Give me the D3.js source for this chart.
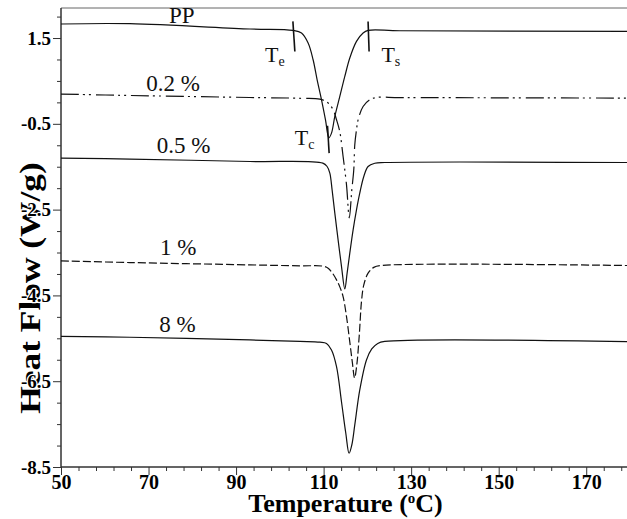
<!DOCTYPE html>
<html>
<head>
<meta charset="utf-8">
<script src="https://cdn.jsdelivr.net/npm/d3@7"></script>
<style>
  html, body { margin: 0; padding: 0; background: #fff; }
  svg { display: block; }
</style>
</head>
<body>
<svg id="chart" width="627" height="519"></svg>
<script>
// DSC cooling curves: heat flow (W/g) against temperature (°C)
const ppT   = [50, 65.75, 93.15, 102.97, 104.95, 106.46, 107.6, 108.52, 109.52, 110.43, 111.19, 111.8, 112.56, 113.7, 114.84, 115.98, 117.51, 119.02, 120.16, 127.4, 180];
const ppHF  = [1.827, 1.834, 1.71, 1.677, 1.617, 1.383, 0.994, 0.527, 0.061, -0.406, -0.826, -0.716, -0.329, 0.138, 0.604, 1.033, 1.421, 1.617, 1.677, 1.670, 1.654];

const p02T  = [50, 65.75, 93.15, 104.57, 109.13, 111.03, 112.17, 112.95, 113.7, 114.45, 115.23, 115.87, 116.44, 116.89, 117.12, 117.51, 117.88, 119.02, 120.55, 122.08, 127.4, 180];
const p02HF = [0.194, 0.161, 0.114, 0.096, 0.077, -0.016, -0.172, -0.406, -0.686, -1.262, -1.922, -2.692, -2.039, -1.572, -0.989, -0.639, -0.406, -0.096, 0.061, 0.114, 0.112, 0.100];

const p05T  = [50, 65.75, 93.15, 109.82, 110.8, 111.42, 111.94, 112.56, 113.31, 114.09, 114.84, 115.37, 115.98, 116.74, 117.51, 118.26, 119.18, 120.16, 121.69, 123.97, 180];
const p05HF = [-1.299, -1.322, -1.378, -1.416, -1.495, -1.649, -2.039, -2.582, -3.205, -3.828, -4.348, -3.982, -3.515, -2.972, -2.505, -2.116, -1.728, -1.495, -1.420, -1.402, -1.402];

const p1T   = [50, 65.75, 93.15, 104.57, 109.82, 111.03, 112.03, 112.95, 113.7, 114.45, 115.23, 115.98, 116.55, 117.08, 117.58, 118.15, 118.65, 119.18, 120.16, 121.46, 123.52, 180];
const p1HF  = [-3.695, -3.734, -3.788, -3.811, -3.818, -3.865, -3.982, -4.138, -4.301, -4.528, -4.994, -5.584, -6.051, -6.424, -6.121, -5.421, -4.644, -4.255, -3.982, -3.846, -3.800, -3.804];

const p8T   = [50, 65.75, 93.15, 104.57, 109.13, 110.66, 111.8, 112.95, 114.09, 115.07, 115.82, 116.44, 117.12, 118.26, 119.79, 121.0, 122.37, 123.97, 180];
const p8HF  = [-5.456, -5.475, -5.538, -5.573, -5.591, -5.619, -5.771, -6.160, -6.984, -7.714, -8.180, -7.987, -7.520, -6.704, -6.004, -5.747, -5.619, -5.573, -5.577];

const seriesNames  = ["PP", "0.2 %", "0.5 %", "1 %", "8 %"];
const seriesDash   = [null, "18,4,2,4,2,5", null, "8,3", null];
// label anchor (temperature, heat flow) for each curve name
const labelT  = [77.6, 75.6, 78.0, 76.8, 76.6];
const labelHF = [1.85, 0.254, -1.169, -3.555, -5.344];

// onset / end / peak markers on the PP curve
const markerNames = ["e", "s", "c"];
const markerT1  = [102.98, 120.16, 110.89];
const markerHF1 = [1.887, 1.887, -0.546];
const markerT2  = [103.43, 120.39, 111.26];
const markerHF2 = [1.187, 1.187, -1.183];
const markerLabelT  = [96.6, 123.2, 103.4];
const markerLabelHF = [0.93, 0.93, -0.99];

const xMajor = [50, 70, 90, 110, 130, 150, 170];
const yMajor = [1.5, -0.5, -2.5, -4.5, -6.5, -8.5];

const svg = d3.select("#chart");
const x = d3.scaleLinear().domain([50, 180]).range([61, 630]);
const y = d3.scaleLinear().domain([-8.5, 2.2]).range([467, 8]);

const xMinor = d3.range(50, 180, 4).filter(v => !xMajor.includes(v));
const yMinor = d3.range(-8.5, 2.01, 0.5).map(v => +v.toFixed(1)).filter(v => !yMajor.includes(v));

const serif = "'Liberation Serif', 'Times New Roman', serif";
const axisColor = "#333";

// y-axis title sits underneath the tick labels, drawn tall and narrow
svg.append("text")
  .attr("transform", `translate(40,288) rotate(-90) scale(1.18,1)`)
  .attr("text-anchor", "middle")
  .attr("font-family", serif).attr("font-weight", "bold").attr("font-size", 30)
  .attr("fill", "#000")
  .text("Heat Flow (W/g)");

// top frame line
svg.append("line")
  .attr("x1", x(50)).attr("x2", 627)
  .attr("y1", y(2.2)).attr("y2", y(2.2))
  .attr("stroke", "#666").attr("stroke-width", 1);

// minor ticks
const gxMin = svg.append("g").attr("transform", `translate(0,${y(-8.5)})`)
  .call(d3.axisBottom(x).tickValues(xMinor).tickSize(4).tickFormat(""));
const gyMin = svg.append("g").attr("transform", `translate(${x(50)},0)`)
  .call(d3.axisLeft(y).tickValues(yMinor).tickSize(4).tickFormat(""));

// major ticks with labels
const gx = svg.append("g").attr("transform", `translate(0,${y(-8.5)})`)
  .call(d3.axisBottom(x).tickValues(xMajor).tickSize(8).tickPadding(0).tickFormat(d3.format("d")));
const gy = svg.append("g").attr("transform", `translate(${x(50)},0)`)
  .call(d3.axisLeft(y).tickValues(yMajor).tickSize(8).tickPadding(2).tickFormat(d => d3.format(".1f")(d).replace("−", "-")));

[gxMin, gyMin, gx, gy].forEach(g => {
  g.selectAll("path.domain").attr("stroke", axisColor);
  g.selectAll(".tick line").attr("stroke", axisColor);
});
gx.select("path.domain").attr("d", `M${x(50)},0H627`);
gxMin.select("path.domain").attr("d", `M${x(50)},0H627`);
gy.select("path.domain").attr("d", `M0,${y(-8.5)}V${y(2.2)}`);
gyMin.select("path.domain").attr("d", `M0,${y(-8.5)}V${y(2.2)}`);

gx.selectAll(".tick text")
  .attr("font-family", serif).attr("font-weight", "bold").attr("font-size", 20)
  .attr("fill", "#000");
// y tick labels keep a thin white halo so they stay legible over the title
gy.selectAll(".tick text")
  .attr("font-family", serif).attr("font-weight", "bold").attr("font-size", 19)
  .attr("fill", "#000")
  .attr("stroke", "#fff").attr("stroke-width", 2.5)
  .attr("paint-order", "stroke")
  .attr("stroke-linejoin", "round");

// curves
const curves = [
  [ppT, ppHF], [p02T, p02HF], [p05T, p05HF], [p1T, p1HF], [p8T, p8HF]
];
const line = d3.line()
  .x(d => x(d[0])).y(d => y(d[1]))
  .curve(d3.curveCatmullRom.alpha(0.5));

curves.forEach(([ts, hs], i) => {
  const pts = ts.map((t, k) => [t, hs[k]]);
  svg.append("path")
    .datum(pts)
    .attr("d", line)
    .attr("fill", "none")
    .attr("stroke", "#111")
    .attr("stroke-width", 1.2)
    .attr("stroke-dasharray", seriesDash[i]);
  svg.append("text")
    .attr("x", x(labelT[i])).attr("y", y(labelHF[i]))
    .attr("text-anchor", "middle")
    .attr("font-family", serif).attr("font-size", 23)
    .attr("fill", "#111")
    .text(seriesNames[i]);
});

// markers
markerNames.forEach((m, i) => {
  svg.append("line")
    .attr("x1", x(markerT1[i])).attr("y1", y(markerHF1[i]))
    .attr("x2", x(markerT2[i])).attr("y2", y(markerHF2[i]))
    .attr("stroke", "#111").attr("stroke-width", 1.6);
  const t = svg.append("text")
    .attr("x", x(markerLabelT[i])).attr("y", y(markerLabelHF[i]))
    .attr("font-family", serif).attr("font-size", 22)
    .attr("fill", "#111");
  t.append("tspan").text("T");
  t.append("tspan").attr("dy", 4).attr("font-size", 14).text(m);
});

// x-axis title with superscript degree mark
svg.append("text")
  .attr("x", x(115)).attr("y", 512)
  .attr("text-anchor", "middle")
  .attr("font-family", serif).attr("font-weight", "bold").attr("font-size", 26)
  .attr("fill", "#000")
  .call(t => {
    t.append("tspan").text("Temperature (");
    t.append("tspan").attr("dy", -9).attr("font-size", 15).text("o");
    t.append("tspan").attr("dy", 9).text("C)");
  });
</script>
</body>
</html>
